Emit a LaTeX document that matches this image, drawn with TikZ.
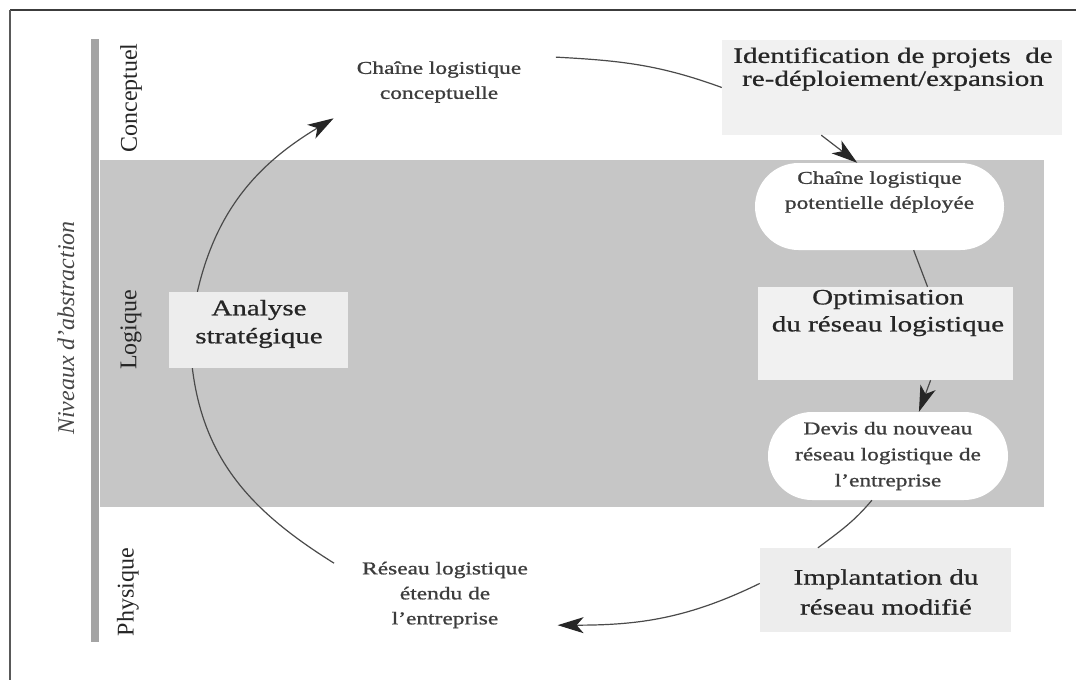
\documentclass[tikz,border=0pt]{standalone}
\usepackage{fontspec}
\setmainfont{Liberation Serif}
\newfontfamily\widefont[FakeStretch=1.32,FakeBold=0.8]{Liberation Serif}
\newfontfamily\smallwidefont[FakeStretch=1.3,FakeBold=1.0]{Liberation Serif}
\usetikzlibrary{shapes.misc,arrows.meta}

\definecolor{bandgrey}{HTML}{C6C6C6}
\definecolor{bargrey}{HTML}{A4A4A4}
\definecolor{boxgrey}{HTML}{EDEDED}
\definecolor{boxlight}{HTML}{F1F1F1}
\definecolor{linkgrey}{HTML}{4A4A4A}
\definecolor{inkgrey}{HTML}{262626}
\definecolor{framegrey}{HTML}{3C3C3C}

\begin{document}
\begin{tikzpicture}[x=1pt,y=1pt,
  levellabel/.style={rotate=90, inner sep=0pt, text=inkgrey,
    font=\fontsize{24}{24}\selectfont},
  bigtxt/.style={align=center, inner sep=0pt, text=inkgrey,
    font=\widefont\fontsize{22}{27}\selectfont},
  smalltxt/.style={align=center, inner sep=0pt, text=inkgrey!90,
    font=\smallwidefont\fontsize{18}{25}\selectfont},
  stepbox/.style={rectangle, fill=boxgrey, draw=none, inner sep=0pt},
  pill/.style={rounded rectangle, fill=white, draw=none, inner sep=0pt,
    minimum width=249pt, minimum height=87pt},
  link/.style={draw=linkgrey, line width=1.2pt},
  tip/.style={-{Stealth[length=26pt,width=16pt,inset=7pt,color=inkgrey]}}
]
\useasboundingbox (0,0) rectangle (1076,-680);
\fill[white] (0,0) rectangle (1076,-680);

% frame
\draw[framegrey, line width=2pt] (10,-10) -- (1076,-10);
\draw[framegrey!85, line width=1.5pt] (10,-10) -- (10,-680);

% logical level band and level axis
\fill[bandgrey] (100,-160) rectangle (1044,-507);
\fill[bargrey] (91,-39) rectangle (99,-642);

% level names
\node[levellabel] (lconc) at (131,-98) {Conceptuel};
\node[levellabel] (llog) at (131,-330) {Logique};
\node[levellabel] (lphys) at (128,-592) {Physique};
\node[levellabel, font=\itshape\fontsize{24}{24}\selectfont, text=inkgrey!85]
  (axis) at (66,-328) {Niveaux d’abstraction};

% states (pills)
\node[pill, smalltxt] (conc) at (439,-82) {Chaîne logistique\\conceptuelle};
\node[pill] (pot) at (879.5,-206.5) {};
\node[smalltxt] (pottxt) at (879.5,-192) {Chaîne logistique\\potentielle déployée};
\node[pill, smalltxt, minimum width=240pt, minimum height=88pt,
  font=\smallwidefont\fontsize{18}{26}\selectfont] (devis) at (888,-456)
  {Devis du nouveau\\réseau logistique de\\l’entreprise};
\node[pill, smalltxt] (reseau) at (445,-595)
  {Réseau logistique\\étendu de\\l’entreprise};

% activities (boxes)
\node[stepbox, fill=boxlight, minimum width=340pt, minimum height=95pt]
  (ident) at (892,-87.5) {};
\node[bigtxt, font=\widefont\fontsize{22}{23}\selectfont] (identtxt) at (893,-69)
  {Identification de projets\ \ de\\re-déploiement/expansion};

\node[stepbox, minimum width=179pt, minimum height=76pt] (analyse) at (258.5,-330) {};
\node[bigtxt, font=\widefont\fontsize{22}{28}\selectfont] (analysetxt) at (259,-324)
  {Analyse\\stratégique};

\node[stepbox, fill=boxlight, minimum width=255pt, minimum height=93pt]
  (optim) at (885.5,-333.5) {};
\node[bigtxt] (optimtxt) at (888,-313) {Optimisation\\du réseau logistique};

\node[stepbox, minimum width=251pt, minimum height=84pt] (impl) at (885.5,-590) {};
\node[bigtxt, font=\widefont\fontsize{22}{30}\selectfont] (impltxt) at (886,-592)
  {Implantation du\\réseau modifié};

% cycle
\draw[link] (conc.12) to[out=-3,in=160] (ident.west);
\draw[link, tip] (ident.214) -- (pot.117);
\draw[link] (pot.-52) -- (optim.48);
\draw[link, tip] (optim.-46) -- (devis.55);
\draw[link] (devis.250) to[out=230,in=37] (impl.148);
\draw[link, tip] (impl.177) to[out=206,in=0] (reseau.-15);
\draw[link] (reseau.164) to[out=148,in=277] (analyse.210);
\draw[link, tip] (analyse.148) to[out=77,in=211] (conc.199);
\end{tikzpicture}
\end{document}
